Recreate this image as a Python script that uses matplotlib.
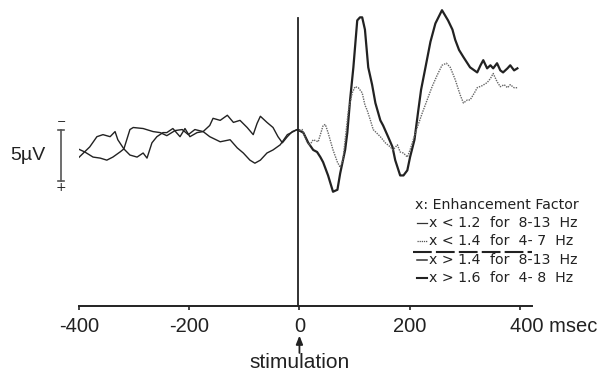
import matplotlib
matplotlib.use("Agg")
import matplotlib.pyplot as plt
import numpy as np

# ---------------- data (time in ms, amplitude in µV, negative = up) -------------
pre1_t = [-402, -381, -368, -357, -344, -335, -330, -319, -308, -295, -284, -277, -268,
          -259, -248, -241, -230, -217, -208, -199, -186, -175, -163, -157, -144, -131,
          -120, -108, -95, -84, -77, -71, -59, -48, -39, -31, -22, -13, -4, 0]
pre1_v = [0.3, -0.8, -1.8, -2.0, -1.8, -2.3, -1.5, -0.6, 0.0, 0.2, -0.2, 0.3, -1.2,
          -1.8, -2.2, -2.2, -2.6, -1.8, -2.6, -1.8, -2.2, -2.3, -2.9, -3.6, -3.4, -3.9,
          -3.2, -3.4, -2.7, -2.0, -3.1, -3.8, -3.2, -2.7, -1.8, -1.2, -1.8, -2.3, -2.5, -2.4]

pre2_t = [-402, -390, -375, -362, -350, -339, -326, -319, -308, -302, -284, -266, -253,
          -241, -226, -213, -202, -190, -175, -163, -144, -126, -113, -102, -90, -81,
          -71, -59, -48, -35, -22, -11, -4, 0]
pre2_v = [-0.6, -0.3, 0.2, 0.3, 0.5, 0.2, -0.3, -0.6, -2.5, -2.7, -2.6, -2.3, -2.2,
          -1.9, -2.4, -2.5, -2.0, -2.5, -2.3, -1.8, -1.3, -1.5, -0.7, -0.2, 0.5, 0.8,
          0.5, -0.2, -0.5, -1.0, -2.0, -2.3, -2.5, -2.4]

# high enhancement trace (thick solid)
post_s_t = [0, 7, 16, 25, 32, 38, 43, 52, 61, 69, 74, 83, 87, 92, 98, 105, 110, 114,
            119, 125, 132, 138, 147, 152, 161, 169, 174, 183, 189, 196, 201, 209, 216,
            221, 229, 238, 247, 259, 270, 278, 283, 290, 298, 310, 323, 329, 334, 341,
            347, 352, 359, 365, 370, 378, 383, 390, 396]
post_s_v = [-2.4, -2.2, -1.2, -0.5, -0.3, 0.2, 0.7, 2.0, 3.6, 3.4, 1.8, -0.5, -2.2,
            -5.4, -8.6, -13.2, -13.5, -13.5, -12.3, -8.6, -6.9, -5.1, -3.4, -2.9, -1.8,
            -0.8, 0.5, 2.0, 2.0, 1.5, 0.2, -1.5, -4.4, -6.4, -8.6, -11.1, -12.9, -14.2,
            -13.2, -12.3, -11.3, -10.3, -9.6, -8.6, -8.1, -8.8, -9.3, -8.5, -8.8, -8.5,
            -9.0, -8.3, -8.1, -8.5, -8.8, -8.3, -8.5]

# low enhancement trace (dotted)
post_d_t = [0, 5, 14, 19, 25, 34, 38, 43, 47, 52, 61, 69, 74, 79, 83, 89, 96, 101,
            107, 114, 119, 123, 129, 134, 147, 156, 165, 170, 178, 183, 189, 196, 201,
            205, 214, 223, 232, 241, 250, 259, 267, 274, 283, 292, 298, 305, 310, 318,
            323, 332, 341, 347, 352, 359, 365, 372, 378, 383, 390, 396]
post_d_v = [-2.4, -2.5, -1.2, -1.0, -1.5, -1.3, -2.0, -2.9, -3.0, -2.2, -0.5, 0.7,
            1.2, 0.5, -1.5, -4.4, -6.1, -6.7, -6.6, -6.1, -4.9, -4.4, -3.4, -2.5, -1.8,
            -1.2, -0.8, -0.5, -1.0, -0.3, -0.2, 0.2, -0.5, -1.2, -2.7, -4.1, -5.4, -6.7,
            -7.8, -8.8, -9.0, -8.6, -7.4, -5.9, -5.1, -5.4, -5.4, -6.1, -6.6, -6.8, -7.1,
            -7.5, -8.0, -7.2, -6.7, -6.9, -6.6, -6.9, -6.6, -6.6]

tick_vals = [-400, -200, 0, 200, 400]
tick_labels = ["-400", "-200", "0", "200", "400 msec"]

legend_title = "x: Enhancement Factor"
legend_cond = ["x < 1.2", "x < 1.4", "x > 1.4", "x > 1.6"]
legend_band = ["for  8-13  Hz", "for  4- 7  Hz", "for  8-13  Hz", "for  4- 8  Hz"]

scale_uv = 5.0

# ---------------- figure ----------------
W, H = 603, 374
fig = plt.figure(figsize=(W / 100, H / 100), dpi=100)
fig.patch.set_facecolor("white")

# pixel layout: t=-400 -> x=79.3px, t=422 -> 531.7px ; axis line at y=306px
ax = fig.add_axes([79.3 / W, (H - 306) / H, (531.7 - 79.3) / W, 306 / H])
ax.set_xlim(-400, 422)
ax.set_ylim(14.8, -15.2)  # negative up
for s in ("left", "right", "top"):
    ax.spines[s].set_visible(False)
ax.spines["bottom"].set_linewidth(1.4)
ax.spines["bottom"].set_color("#222222")
ax.set_yticks([])
ax.set_xticks(tick_vals)
ax.set_xticklabels([])
ax.tick_params(axis="x", direction="out", length=3, width=1.2, color="#222222")

ink = "#222222"
sans = ["Liberation Sans", "DejaVu Sans"]

# traces
ax.plot(pre1_t, pre1_v, color=ink, lw=1.0, solid_joinstyle="round")
ax.plot(pre2_t, pre2_v, color=ink, lw=1.0, solid_joinstyle="round")
ax.plot(post_s_t, post_s_v, color=ink, lw=1.6, solid_joinstyle="round")
ax.plot(post_d_t, post_d_v, color="#666666", lw=1.0, linestyle=(0, (1, 0.8)))

# stimulation line
ax.plot([-2, -2], [-13.4, 14.8], color=ink, lw=1.3)

# tick labels
label_y = 16.8
for v, lab in zip(tick_vals, tick_labels):
    if v == tick_vals[-1]:
        ax.text(v - 17, label_y, lab, ha="left", va="center", fontsize=14.5,
                family=sans, color=ink, clip_on=False)
    else:
        ax.text(v, label_y, lab, ha="center", va="center", fontsize=14.5,
                family=sans, color=ink, clip_on=False)

# arrow + stimulation
ax.annotate("", xy=(0, 17.7), xytext=(0, 19.4),
            arrowprops=dict(arrowstyle="-|>,head_length=0.5,head_width=0.2",
                            color=ink, lw=1.3, shrinkA=0, shrinkB=0),
            annotation_clip=False)
ax.text(0, 20.3, "stimulation", ha="center", va="center", fontsize=15,
        family=sans, color=ink, clip_on=False)

# scale bar (5 µV)
sx = -433
ax.plot([sx, sx], [-scale_uv / 2, scale_uv / 2], color="#555555", lw=1.2, clip_on=False)
for yy in (-scale_uv / 2, scale_uv / 2):
    ax.plot([sx - 5, sx + 5], [yy, yy], color="#555555", lw=1.2, clip_on=False)
ax.text(sx, -3.2, "−", ha="center", va="center", fontsize=8, color=ink, clip_on=False)
ax.text(sx, 3.2, "+", ha="center", va="center", fontsize=9, color=ink, clip_on=False)
ax.text(-461, 0, f"{scale_uv:g}µV", ha="right", va="center", fontsize=14,
        family=sans, color=ink, clip_on=False)

# legend (pixel positions converted to axis data coordinates)
def px2t(px):
    return (px - 299.3) / 0.55

def py2v(py):
    return (py - 155) / 10.2

ax.text(px2t(415), py2v(204.5), legend_title, ha="left", va="center", fontsize=10.2,
        color=ink)
rows_y = [222.7, 240.7, 260.0, 278.3]
dash_styles = [dict(lw=0.9, ls="-", color="#333333"),
               dict(lw=0.9, ls=(0, (1, 0.7)), color="#555555"),
               dict(lw=1.1, ls="-", color="#333333"),
               dict(lw=1.5, ls="-", color="#222222")]
for yy, cond, band, st in zip(rows_y, legend_cond, legend_band, dash_styles):
    ax.plot([px2t(417), px2t(427)], [py2v(yy), py2v(yy)], **st)
    ax.text(px2t(429), py2v(yy), cond, ha="left", va="center", fontsize=10.2, color=ink)
    ax.text(px2t(490), py2v(yy), band, ha="left", va="center", fontsize=10.2, color=ink)
# dashed separator
ax.plot([px2t(413), px2t(580)], [py2v(251.5), py2v(251.5)], color=ink, lw=1.5,
        ls=(0, (9, 2)))

fig.savefig("out.png", dpi=100, facecolor="white")
